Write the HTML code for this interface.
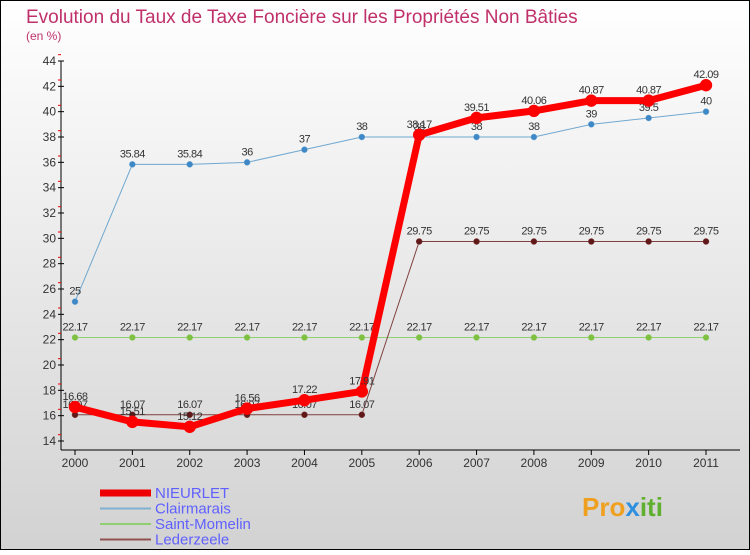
<!DOCTYPE html>
<html><head><meta charset="utf-8"><style>
html,body{margin:0;padding:0}
body{width:750px;height:550px;overflow:hidden;font-family:"Liberation Sans",sans-serif}
</style></head><body>
<svg width="750" height="550" xmlns="http://www.w3.org/2000/svg" id="svg">
<defs><linearGradient id="bg" x1="0" y1="0" x2="0" y2="1"><stop offset="0" stop-color="#ffffff"/><stop offset="1" stop-color="#d2d2d2"/></linearGradient></defs>
<rect x="0.5" y="0.5" width="749" height="549" fill="url(#bg)" stroke="#000"/>
<text x="26" y="23" font-size="19" fill="#c0306a">Evolution du Taux de Taxe Foncière sur les Propriétés Non Bâties</text>
<text x="26" y="40" font-size="12" fill="#c0306a">(en %)</text>
<g id="axes"></g><g id="series"></g><g id="legend"></g>
<text x="582" y="516" font-size="26" font-weight="bold" fill="#f0a020">Pro<tspan fill="#3090e0">x</tspan><tspan fill="#60b030">iti</tspan></text>
</svg>
<script>
const years=["2000","2001","2002","2003","2004","2005","2006","2007","2008","2009","2010","2011"];
const nieurlet=[16.68,15.51,15.12,16.56,17.22,17.91,38.17,39.51,40.06,40.87,40.87,42.09];
const clairmarais=[25,35.84,35.84,36,37,38,38,38,38,39,39.5,40];
const saintMomelin=[22.17,22.17,22.17,22.17,22.17,22.17,22.17,22.17,22.17,22.17,22.17,22.17];
const lederzeele=[16.07,16.07,16.07,16.07,16.07,16.07,29.75,29.75,29.75,29.75,29.75,29.75];
const yTicks=[14,16,18,20,22,24,26,28,30,32,34,36,38,40,42,44];
const NS="http://www.w3.org/2000/svg";
const X=i=>75+i*(706-75)/11, Y=v=>441-(v-14)*(380/30);
function mk(t,a,p){const e=document.createElementNS(NS,t);for(const k in a)e.setAttribute(k,a[k]);p.appendChild(e);return e;}
const ax=document.getElementById('axes');
let l=mk('line',{x1:61,y1:61,x2:61,y2:450,stroke:'#000'},ax);
l=mk('line',{x1:61,y1:450,x2:740,y2:450,stroke:'#000'},ax);
yTicks.forEach(v=>{const y=Y(v);mk('line',{x1:58,y1:y,x2:64,y2:y,stroke:'#000'},ax);
 mk('line',{x1:58,y1:y-6.33,x2:61,y2:y-6.33,stroke:'#e00'},ax);
 const t=mk('text',{x:56,y:y+4,'font-size':12,fill:'#333','text-anchor':'end'},ax);t.textContent=v;
 });
years.forEach((yr,i)=>{const x=X(i);mk('line',{x1:x,y1:450,x2:x,y2:455,stroke:'#000'},ax);
 const t=mk('text',{x:x,y:467,'font-size':12,fill:'#333','text-anchor':'middle'},ax);t.textContent=yr;
 });
const sg=document.getElementById('series');
function series(name,data,color,w,r,fill,lab){const g=mk('g',{},sg);
 
 mk('polyline',{points:data.map((v,i)=>X(i)+','+Y(v)).join(' '),fill:'none',stroke:color,'stroke-width':w,'stroke-linejoin':'round'},g);
 data.forEach((v,i)=>{const c=mk('circle',{cx:X(i),cy:Y(v),r:r,fill:fill,stroke:color,'stroke-width':0.5},g);
  
  const t=mk('text',{x:X(i),y:Y(v)-7,'font-size':11,fill:'#333','text-anchor':'middle','letter-spacing':'-0.5'},g);t.textContent=String(v);
  });}
series('saint-momelin',saintMomelin,'#90d070',1,3,'#80c040');
series('lederzeele',lederzeele,'#804040',1,3,'#601818');
series('clairmarais',clairmarais,'#70a8d0',1,3,'#3f88c8');
series('nieurlet',nieurlet,'#ff0000',7,6,'#ff0000');
const lg=document.getElementById('legend');
[['NIEURLET','#ee0000',7],['Clairmarais','#80b0d0',2],['Saint-Momelin','#90d070',2],['Lederzeele','#905050',2]].forEach((e,i)=>{
 const y=492+i*15.5;const g=mk('g',{},lg);
 mk('line',{x1:100,y1:y+1,x2:151,y2:y+1,stroke:e[1],'stroke-width':e[2]},g);
 const t=mk('text',{x:155,y:y+6,'font-size':15,fill:'#6060ff'},g);t.textContent=e[0];});
</script>
</body></html>
